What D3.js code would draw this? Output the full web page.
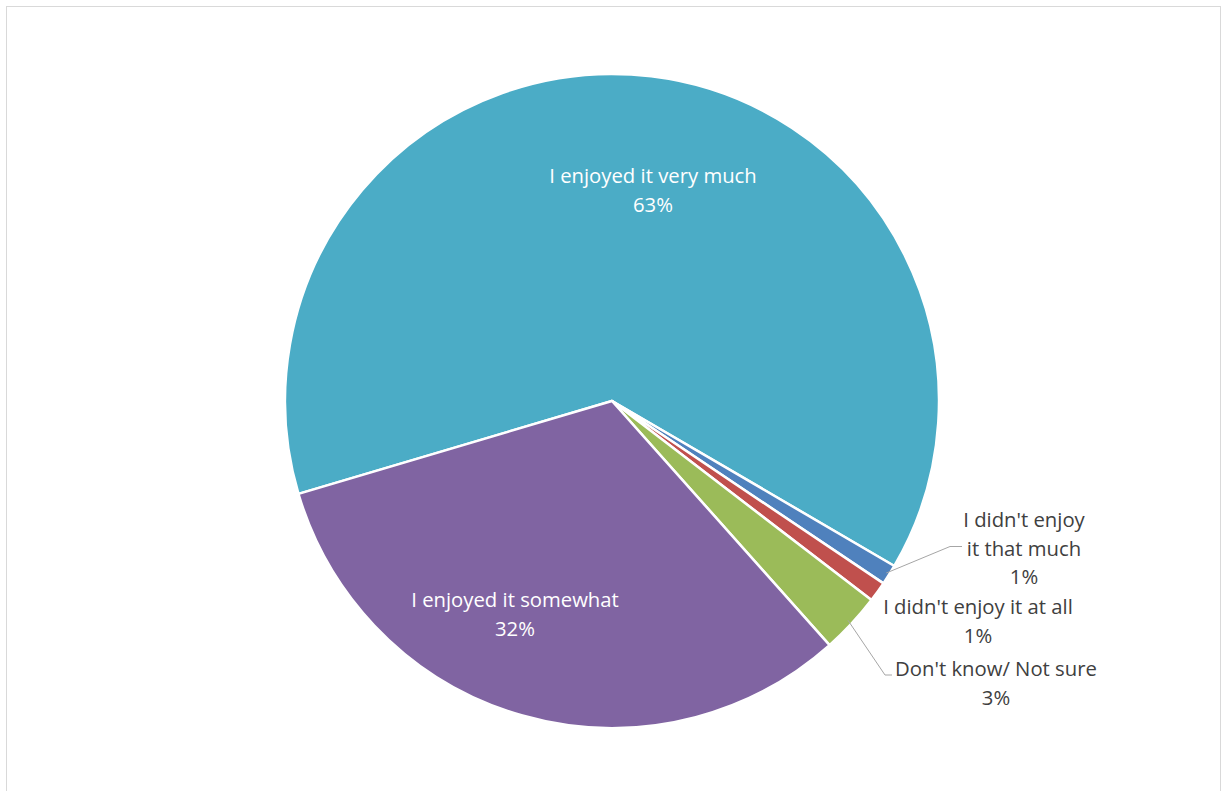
<!DOCTYPE html>
<html>
<head>
<meta charset="utf-8">
<script src="https://cdn.jsdelivr.net/npm/d3@7/dist/d3.min.js"></script>
<style>
  html, body { margin: 0; padding: 0; background: #fff; }
  svg { display: block; }
  text { font-family: "Open Sans", "Noto Sans", sans-serif; }
</style>
</head>
<body>
<svg id="chart" width="1222" height="791"></svg>
<script>
// Survey answers, in the order they run clockwise around the pie
const categories = [
  "I enjoyed it very much",
  "I didn't enjoy it that much",
  "I didn't enjoy it at all",
  "Don't know/ Not sure",
  "I enjoyed it somewhat"
];
const values = [63, 1, 1, 3, 32];
const valueLabels = ["63%", "1%", "1%", "3%", "32%"];
const colors = ["#4BACC6", "#4F81BD", "#C0504D", "#9BBB59", "#8064A2"];

// Label text lines (wrapped as shown) and whether the label sits inside its slice
const labelLines = [
  ["I enjoyed it very much"],
  ["I didn't enjoy", "it that much"],
  ["I didn't enjoy it at all"],
  ["Don't know/ Not sure"],
  ["I enjoyed it somewhat"]
];
const insideLabel = [true, false, false, false, true];
// Label anchor offsets from the pie centre (x of text centre, y of first baseline)
const labelAnchor = [[41, -218], [412, 126], [366, 213], [384, 275], [-97, 206]];
const showLeader = [false, true, false, true, false];

const W = 1222, H = 791;
const cx = 612, cy = 401, R = 327;
const lineH = 28.5;

const svg = d3.select("#chart");

// chart frame
svg.append("rect")
  .attr("x", 6.5).attr("y", 6.5)
  .attr("width", 1214).attr("height", 800)
  .attr("fill", "#fff").attr("stroke", "#d9d9d9").attr("stroke-width", 1);

const startDeg = -106.5;
const pie = d3.pie().sort(null).value(d => d)
  .startAngle(startDeg * Math.PI / 180)
  .endAngle((startDeg + 360) * Math.PI / 180);
const arcs = pie(values);
const arc = d3.arc().innerRadius(0).outerRadius(R);

const g = svg.append("g").attr("transform", `translate(${cx},${cy})`);

g.selectAll("path.slice")
  .data(arcs)
  .join("path")
  .attr("class", "slice")
  .attr("d", arc)
  .attr("fill", (d, i) => colors[i])
  .attr("stroke", "#fff")
  .attr("stroke-width", 2.5)
  .attr("stroke-linejoin", "round");

// leader lines from slice edge to outside labels
arcs.forEach((d, i) => {
  if (!showLeader[i]) return;
  const mid = (d.startAngle + d.endAngle) / 2;
  const inset = i === 3 ? R * 0.985 : R * 0.99;
  const p0 = [inset * Math.sin(mid), -inset * Math.cos(mid)];
  let pts;
  if (i === 1) {
    const yL = labelAnchor[i][1] + lineH - 1 - 8;
    const xEnd = labelAnchor[i][0] - 62;
    pts = [p0, [xEnd - 12, yL], [xEnd, yL]];
  } else {
    const yL = labelAnchor[i][1] - 1;
    const xEnd = labelAnchor[i][0] - 104;
    pts = [p0, [xEnd - 7, yL], [xEnd, yL]];
  }
  g.append("path")
    .attr("d", d3.line()(pts))
    .attr("fill", "none")
    .attr("stroke", "#a6a6a6")
    .attr("stroke-width", 1);
});

// data labels
arcs.forEach((d, i) => {
  const lines = labelLines[i].concat([valueLabels[i]]);
  const t = g.append("text")
    .attr("text-anchor", "middle")
    .attr("font-size", 20.3)
    .attr("fill", insideLabel[i] ? "#ffffff" : "#404040");
  lines.forEach((s, k) => {
    t.append("tspan")
      .attr("x", labelAnchor[i][0])
      .attr("y", labelAnchor[i][1] + k * lineH)
      .text(s);
  });
});
</script>
</body>
</html>
